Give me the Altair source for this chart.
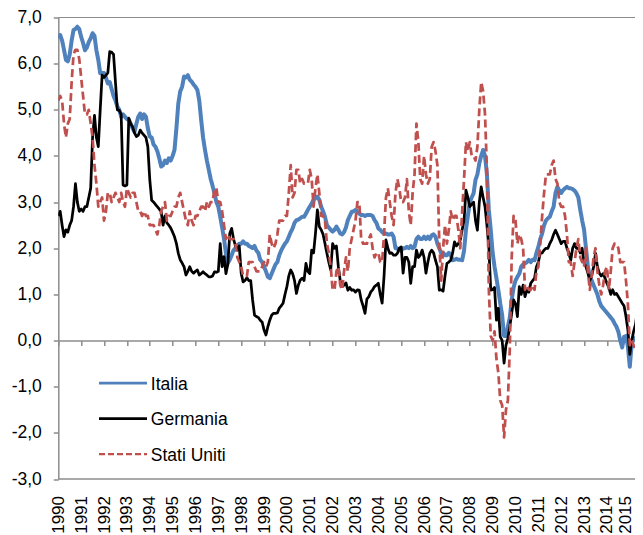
import altair as alt
import pandas as pd

series_names = ["Italia", "Germania", "Stati Uniti"]
start_year = 1990
year_ticks = list(range(1990, 2016))
y_ticks = list(range(-3, 8))

italia = [
    6.55, 6.62, 6.5, 6.3, 6.08, 6.05, 6.2, 6.5, 6.73, 6.75, 6.8, 6.75,
    6.58, 6.45, 6.29, 6.35, 6.47, 6.55, 6.66, 6.6, 6.29, 6.08, 5.79, 5.8,
    5.8, 5.7, 5.57, 5.6, 5.45, 5.3, 5.2, 5.07, 5.0, 4.85, 4.9, 4.85,
    4.8, 4.78, 4.7, 4.6, 4.52, 4.7, 4.85, 4.92, 4.8, 4.9, 4.85, 4.6,
    4.42, 4.4, 4.25, 4.2, 4.1, 3.95, 3.77, 3.8, 3.9, 3.85, 3.95, 3.9,
    4.0, 4.13, 4.6, 5.14, 5.4, 5.5, 5.72, 5.7, 5.75, 5.65, 5.61, 5.55,
    5.5, 5.43, 5.2, 4.78, 4.4, 4.13, 3.9, 3.7, 3.5, 3.35, 3.19, 3.0,
    2.9, 2.68, 2.45, 2.2, 1.89, 1.68, 1.75, 1.85, 1.96, 2.0, 2.05, 2.1,
    2.1, 2.15, 2.1, 2.1, 2.05, 2.03, 2.0, 2.05, 1.95, 1.9, 1.75, 1.7,
    1.6, 1.5, 1.38, 1.35, 1.45, 1.55, 1.65, 1.7, 1.85, 1.95, 2.03, 2.1,
    2.15, 2.25, 2.35, 2.43, 2.55, 2.61, 2.62, 2.65, 2.68, 2.68, 2.75, 2.83,
    2.9, 2.97, 3.05, 3.08, 3.12, 3.05, 2.9, 2.8, 2.68, 2.5, 2.45, 2.4,
    2.36, 2.4, 2.47, 2.4, 2.32, 2.3, 2.35, 2.45, 2.61, 2.7, 2.79, 2.8,
    2.83, 2.8, 2.75, 2.72, 2.72, 2.7, 2.72, 2.72, 2.72, 2.7, 2.61, 2.55,
    2.43, 2.4, 2.35, 2.32, 2.32, 2.3, 2.3, 2.32, 2.25, 2.0, 2.0, 1.95,
    1.95, 2.0, 2.0, 2.03, 2.0, 2.05, 2.0, 2.03, 2.2, 2.25, 2.2, 2.2,
    2.25, 2.2, 2.25, 2.2, 2.28, 2.3, 2.25, 2.1, 2.0, 1.89, 1.9, 1.85,
    1.85, 1.9, 1.85, 1.74, 1.75, 1.77, 1.75, 1.75, 1.74, 1.95, 2.4, 2.7,
    3.0, 3.1, 3.19, 3.48, 3.6, 3.84, 4.0, 4.13, 4.0, 3.6, 2.83, 2.4,
    1.9, 1.6, 1.35, 1.09, 0.8, 0.55, 0.1, 0.1, 0.3, 0.5, 0.88, 1.15,
    1.3, 1.38, 1.45, 1.6, 1.65, 1.67, 1.7, 1.75, 1.7, 1.75, 1.74, 1.9,
    2.03, 2.2, 2.32, 2.5, 2.6, 2.65, 2.68, 2.8, 2.9, 3.2, 3.33, 3.25,
    3.2, 3.26, 3.3, 3.33, 3.3, 3.3, 3.28, 3.25, 3.19, 3.1, 2.83, 2.6,
    2.4, 2.0, 1.6, 1.4, 1.3, 1.2, 1.1, 1.0, 0.85, 0.75, 0.7, 0.65,
    0.6, 0.55, 0.5, 0.45, 0.37, 0.3, 0.19, 0.0, -0.15, 0.08, 0.1, -0.13,
    -0.57, -0.06, 0.05, 0.0, 0.15, 0.2, 0.25,
]

germania = [
    2.7, 2.8, 2.5, 2.25, 2.4, 2.35, 2.5, 2.6, 2.9, 3.4, 3.0, 2.8,
    2.85, 2.8, 2.9, 2.9, 3.1, 3.3, 4.4, 4.88, 4.4, 4.2, 5.0, 5.75,
    5.7, 5.75, 5.8, 6.26, 6.25, 6.2, 5.6, 5.0, 4.99, 4.9, 3.37, 3.35,
    3.37, 4.82, 4.7, 4.63, 4.5, 4.42, 4.45, 4.56, 4.5, 4.45, 4.4, 4.2,
    3.5, 3.04, 3.0, 2.95, 2.9, 2.85, 2.79, 2.5, 2.7, 2.55, 2.5, 2.44,
    2.35, 2.25, 2.1, 1.89, 1.75, 1.68, 1.6, 1.42, 1.5, 1.6, 1.5, 1.46,
    1.5, 1.53, 1.42, 1.45, 1.49, 1.45, 1.42, 1.38, 1.38, 1.4, 1.49, 1.48,
    1.5, 2.1, 1.6, 1.82, 1.45, 1.65, 2.32, 2.43, 2.2, 2.05, 1.96, 2.05,
    1.46, 1.27, 1.3, 1.36, 1.3, 1.3, 0.88, 0.55, 0.52, 0.5, 0.44, 0.4,
    0.23, 0.12, 0.3, 0.44, 0.55, 0.59, 0.59, 0.6, 0.7, 0.75, 0.81, 1.0,
    1.17, 1.4, 1.53, 1.45, 1.3, 1.02, 1.2, 1.31, 1.35, 1.3, 1.67, 1.5,
    1.45, 1.96, 1.9, 2.32, 2.83, 2.47, 2.4, 2.3, 2.1, 1.89, 1.7, 1.53,
    2.1, 2.0, 2.05, 1.6, 1.3, 1.17, 1.2, 1.25, 1.09, 1.15, 1.09, 1.1,
    1.05, 1.1, 1.09, 0.88, 0.75, 0.59, 0.9, 0.95, 1.05, 1.1, 1.17, 1.2,
    1.24, 1.0, 0.81, 1.4, 2.18, 2.0, 1.89, 1.9, 1.85, 1.85, 1.89, 2.0,
    2.03, 1.46, 1.8, 1.8, 1.7, 1.24, 1.6, 1.6, 1.96, 1.8, 1.85, 1.96,
    1.8, 1.46, 1.7, 1.89, 1.96, 1.9, 1.74, 1.6, 1.09, 1.1, 1.07, 1.4,
    1.67, 1.7, 1.74, 1.9, 2.14, 2.05, 2.1, 2.18, 2.4, 2.61, 3.26, 3.1,
    2.9, 2.95, 3.0, 2.6, 2.39, 3.0, 3.33, 3.1, 2.9, 2.5, 2.03, 1.09,
    1.1, 1.15, 0.44, 0.7, 0.08, 0.0, -0.49, -0.1, 0.05, 0.3, 0.59, 0.88,
    0.8, 0.52, 1.17, 1.0, 1.2, 0.95, 1.1, 1.05, 1.24, 1.3, 1.35, 1.6,
    1.7, 1.89, 1.9, 1.96, 2.0, 2.0, 2.1, 2.18, 2.3, 2.39, 2.3, 2.2,
    2.1, 2.15, 2.15, 2.0, 1.9, 1.74, 2.0, 2.1, 2.0, 2.0, 1.9, 2.0,
    1.67, 1.6, 1.46, 1.3, 1.4, 1.6, 1.89, 1.6, 1.46, 1.4, 1.45, 1.35,
    1.24, 1.15, 1.0, 1.1, 1.0, 1.02, 0.95, 0.88, 0.81, 0.75, 0.52, 0.23,
    -0.3, 0.0, 0.2, 0.35, 0.66, 0.2, 0.15,
]

stati_uniti = [
    5.2, 5.3, 5.2, 4.7, 4.4, 4.7, 4.8, 5.6, 6.2, 6.3, 6.3, 6.1,
    5.7, 5.3, 4.9, 4.9, 5.0, 4.7, 4.4, 3.8, 3.4, 2.9, 3.0, 3.1,
    2.6, 2.8, 3.2, 3.2, 3.0, 3.1, 3.2, 3.1, 3.0, 3.2, 3.0, 2.9,
    3.3, 3.2, 3.1, 3.2, 3.2, 3.0, 2.8, 2.8, 2.7, 2.8, 2.7, 2.7,
    2.5, 2.5, 2.5, 2.4, 2.3, 2.5, 2.8, 2.9, 3.0, 2.6, 2.7, 2.7,
    2.8, 2.9, 2.9, 3.1, 3.2, 3.0, 2.8, 2.6, 2.5, 2.8, 2.6, 2.5,
    2.7, 2.7, 2.8, 2.9, 2.9, 2.8, 3.0, 2.9, 3.0, 3.0, 3.3, 3.3,
    3.0, 3.0, 2.8, 2.5, 2.2, 2.3, 2.2, 2.2, 2.2, 2.1, 1.8, 1.7,
    1.6, 1.4, 1.4, 1.4, 1.7, 1.7, 1.7, 1.6, 1.5, 1.5, 1.5, 1.6,
    1.7, 1.6, 1.7, 2.3, 2.1, 2.0, 2.1, 2.3, 2.6, 2.6, 2.6, 2.7,
    2.7, 3.2, 3.8, 3.1, 3.2, 3.7, 3.7, 3.4, 3.5, 3.4, 3.4, 3.4,
    3.7, 3.5, 2.9, 3.3, 3.6, 3.2, 2.7, 2.7, 2.6, 2.1, 1.9, 1.6,
    1.1, 1.1, 1.5, 1.6, 1.2, 1.1, 1.5, 1.8, 1.5, 2.0, 2.2, 2.4,
    2.6, 3.0, 3.0, 2.2, 2.1, 2.1, 2.1, 2.2, 2.3, 2.0, 1.8, 1.9,
    1.9, 1.7, 1.7, 2.3, 3.1, 3.3, 3.0, 2.7, 2.5, 3.2, 3.5, 3.3,
    3.0, 3.0, 3.1, 3.5, 2.8, 2.5, 3.2, 3.6, 4.7, 4.3, 3.5, 3.4,
    4.0, 3.6, 3.4, 3.5, 4.2, 4.3, 4.1, 3.8, 2.1, 1.3, 2.0, 2.5,
    2.1, 2.4, 2.8, 2.6, 2.7, 2.7, 2.4, 2.0, 2.8, 3.5, 4.3, 4.1,
    4.3, 4.0, 4.0, 3.9, 4.2, 5.0, 5.6, 5.4, 4.9, 3.7, 1.1, 0.1,
    0.0, 0.2, -0.4, -0.7, -1.3, -1.4, -2.1, -1.5, -1.3, -0.2, 1.8, 2.7,
    2.6, 2.1, 2.3, 2.2, 2.0, 1.1, 1.2, 1.1, 1.1, 1.2, 1.1, 1.5,
    1.6, 2.1, 2.7, 3.2, 3.6, 3.6, 3.6, 3.8, 3.9, 3.5, 3.4, 3.0,
    2.9, 2.9, 2.7, 2.3, 1.7, 1.7, 1.4, 1.7, 2.0, 2.2, 1.8, 1.7,
    1.6, 2.0, 1.5, 1.1, 1.4, 1.8, 2.0, 1.5, 1.2, 1.0, 1.2, 1.5,
    1.6, 1.1, 1.5, 2.0, 2.1, 2.1, 2.0, 1.7, 1.7, 1.7, 1.3, 0.8,
    -0.1, 0.0, -0.1, -0.2, 0.0, 0.1, 0.2,
]

rows = []
for name, vals in zip(series_names, [italia, germania, stati_uniti]):
    for i, v in enumerate(vals):
        rows.append({"t": start_year + i / 12.0, "value": v, "series": name})
df = pd.DataFrame(rows)

colors = {"Italia": "#4F81BD", "Germania": "#000000", "Stati Uniti": "#C0504D"}
widths = {"Italia": 4.0, "Germania": 2.75, "Stati Uniti": 2.75}
dashes = {"Italia": [1, 0], "Germania": [1, 0], "Stati Uniti": [8, 4]}

W = 576.7          # plot runs to the right edge of the visible page
H = 461.5
YEAR_PX = 22.86
AX = "#8c8c8c"
FONT = "Liberation Sans"
ZERO_FROM_BOTTOM = H * 0.3

x_scale = alt.Scale(domain=[1990, 1990 + W / YEAR_PX], nice=False, zero=False)
y_scale = alt.Scale(domain=[-3, 7], nice=False, zero=False)

# one x axis: its line and ticks sit on the zero line, its labels below the plot
x_axis = alt.Axis(
    values=year_ticks, format="d", labelAngle=270,
    domain=True, domainColor=AX, domainWidth=1.5,
    ticks=True, tickSize=5, tickColor=AX, tickWidth=1.5,
    labelPadding=ZERO_FROM_BOTTOM + 16.5 - 5, offset=-ZERO_FROM_BOTTOM,
    labelOffset={"condition": {"test": "datum.value >= 2015", "value": -4}, "value": 0},
    grid=False, title=None, orient="bottom",
    labelFontSize=17, labelFont=FONT, labelColor="#000000",
    labelOverlap=False, labelFlush=False, labelBound=False,
)
y_axis = alt.Axis(
    values=y_ticks,
    labelExpr="(datum.value < 0 ? '-' : '') + abs(datum.value) + ',0'",
    grid=False, title=None, tickSize=5, tickColor=AX, tickWidth=1.5,
    domainColor=AX, domainWidth=1.5, labelPadding=12, labelFontSize=17.5,
    labelFont=FONT, labelColor="#000000", orient="left",
)

base = alt.Chart(df)

def series_layer(name):
    return base.transform_filter(alt.datum.series == name).mark_line(
        color=colors[name], strokeWidth=widths[name], strokeDash=dashes[name],
        strokeJoin="round", strokeCap="butt", clip=True,
    ).encode(
        x=alt.X("t:Q", scale=x_scale, axis=x_axis),
        y=alt.Y("value:Q", scale=y_scale, axis=y_axis),
    )

line_layers = [series_layer(n) for n in series_names]

one_row = pd.DataFrame({"k": [0]})
top_border = alt.Chart(one_row).mark_rule(color=AX, strokeWidth=1).encode(
    x=alt.value(0), x2=alt.value(W), y=alt.value(0)
)
bottom_border = alt.Chart(one_row).mark_rule(color=AX, strokeWidth=1.5).encode(
    x=alt.value(0), x2=alt.value(W), y=alt.value(H)
)

legend_y = [365.5, 401.0, 436.5]
legend_w = {"Italia": 2.75, "Germania": 2.75, "Stati Uniti": 2.25}
legend_dash = {"Italia": [1, 0], "Germania": [1, 0], "Stati Uniti": [6, 3]}
legend_layers = []
for name, ly in zip(series_names, legend_y):
    ldf = pd.DataFrame({"name": [name]})
    legend_layers.append(
        alt.Chart(ldf).mark_rule(
            color=colors[name], strokeWidth=legend_w[name], strokeDash=legend_dash[name]
        ).encode(x=alt.value(40.7), x2=alt.value(88.7), y=alt.value(ly))
    )
    legend_layers.append(
        alt.Chart(ldf).mark_text(
            align="left", baseline="middle", fontSize=17.5, font=FONT, color="#000000"
        ).encode(x=alt.value(92.5), y=alt.value(ly + 1.5), text="name:N")
    )

chart = alt.layer(top_border, bottom_border, *line_layers, *legend_layers).properties(
    width=W, height=H,
    autosize=alt.AutoSizeParams(type="none"),
    padding={"left": 50.3, "top": 9.5, "right": 0, "bottom": 56},
    background="#ffffff",
).configure_view(stroke=None)

chart.save("out.html", embed_options={"renderer": "svg", "actions": False})
